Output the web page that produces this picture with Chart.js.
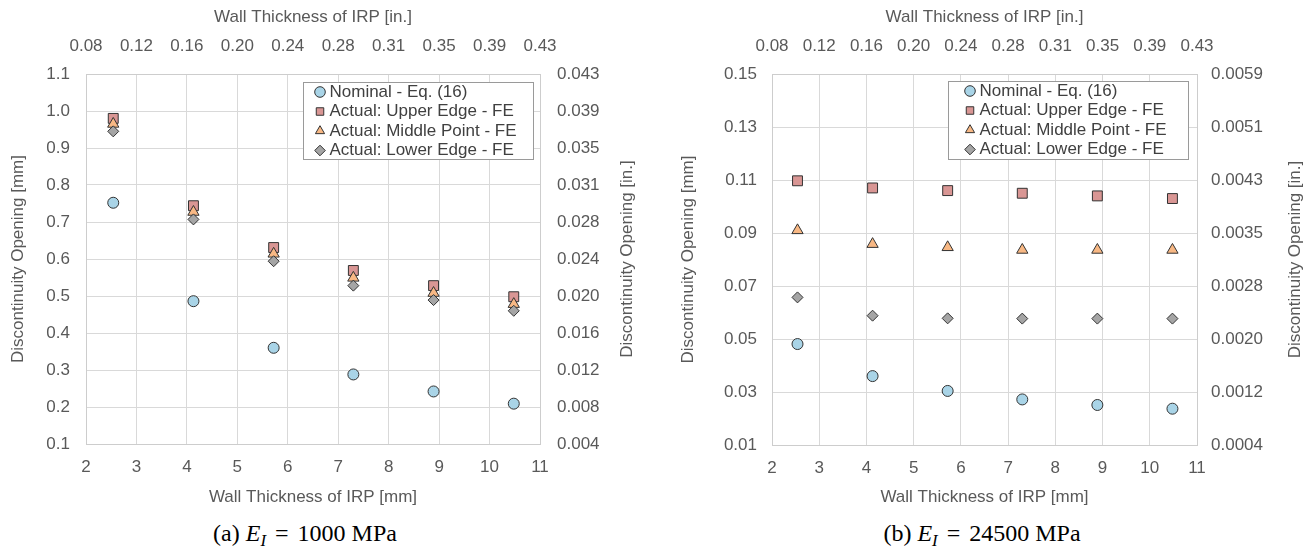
<!DOCTYPE html>
<html>
<head>
<meta charset="utf-8">
<script src="https://cdn.jsdelivr.net/npm/chart.js@4.4.1/dist/chart.umd.min.js"></script>
<style>
  html, body { margin: 0; padding: 0; background: #fff; }
  body { width: 1314px; height: 558px; position: relative; overflow: hidden; }
  .panel { position: absolute; top: 0; width: 657px; height: 520px; }
  .cap {
    position: absolute; top: 521px;
    font-family: 'Liberation Serif', 'Times New Roman', serif;
    font-size: 24px; line-height: 24px; color: #000;
    text-align: center; white-space: nowrap;
  }
  .cap sub { font-size: 0.7em; vertical-align: -0.28em; line-height: 0; }
  .cap .eq { margin: 0 9px; }
</style>
</head>
<body>
<div class="panel" style="left:0"><canvas id="chartA" width="657" height="520"></canvas></div>
<div class="panel" style="left:657px"><canvas id="chartB" width="657" height="520"></canvas></div>
<div class="cap" style="left:0;width:610px">(a) <i>E<sub>I</sub></i><span class="eq">=</span>1000 MPa</div>
<div class="cap" style="left:657px;width:650px">(b) <i>E<sub>I</sub></i><span class="eq">=</span>24500 MPa</div>

<script>
// Wall thickness of the IRP for each analysed case [mm]
const wallThicknessMm = [2.54, 4.13, 5.72, 7.30, 8.89, 10.48];

const seriesNames = [
  'Nominal - Eq. (16)',
  'Actual: Upper Edge - FE',
  'Actual: Middle Point - FE',
  'Actual: Lower Edge - FE'
];

// Discontinuity opening [mm], E_I = 1000 MPa
const nominalA = [0.752, 0.486, 0.360, 0.288, 0.242, 0.209];
const upperA   = [0.980, 0.744, 0.631, 0.569, 0.528, 0.498];
const middleA  = [0.965, 0.727, 0.614, 0.549, 0.508, 0.478];
const lowerA   = [0.945, 0.707, 0.594, 0.528, 0.489, 0.460];

// Discontinuity opening [mm], E_I = 24500 MPa
const nominalB = [0.0481, 0.0360, 0.0304, 0.0272, 0.0251, 0.0237];
const upperB   = [0.1097, 0.1070, 0.1060, 0.1050, 0.1040, 0.1030];
const middleB  = [0.0910, 0.0858, 0.0846, 0.0836, 0.0836, 0.0836];
const lowerB   = [0.0657, 0.0588, 0.0578, 0.0577, 0.0577, 0.0577];

// Tick labels
const inchTickLabels = ['0.08', '0.12', '0.16', '0.20', '0.24', '0.28', '0.31', '0.35', '0.39', '0.43'];
const mmTickLabelsA  = ['0.1', '0.2', '0.3', '0.4', '0.5', '0.6', '0.7', '0.8', '0.9', '1.0', '1.1'];
const inTickLabelsA  = ['0.004', '0.008', '0.012', '0.016', '0.020', '0.024', '0.028', '0.031', '0.035', '0.039', '0.043'];
const mmTickLabelsB  = ['0.01', '0.03', '0.05', '0.07', '0.09', '0.11', '0.13', '0.15'];
const inTickLabelsB  = ['0.0004', '0.0012', '0.0020', '0.0028', '0.0035', '0.0043', '0.0051', '0.0059'];

const markerStyles = [
  { pointStyle: 'circle',   fill: '#a9d4e7', radius: 5.5 },
  { pointStyle: 'rect',     fill: '#d99694', radius: 7 },
  { pointStyle: 'triangle', fill: '#f8b884', radius: 6.5 },
  { pointStyle: 'rectRot',  fill: '#a5a5a5', radius: 5.5 }
];

const FONT = "'Liberation Sans', Arial, sans-serif";
const TEXT_GREY = '#595959';
const GRID = '#d9d9d9';
const FRAME = '#cdcdcd';
Chart.defaults.font.family = FONT;

// Places the legend in a framed white box at the top right of the plot area
const legendFrame = {
  id: 'legendFrame',
  afterLayout(chart, args, o) {
    const area = chart.chartArea;
    const lg = chart.legend;
    const lab = lg.options.labels;
    const fs = Chart.helpers.toFont(lab.font).size;
    const pad = lab.padding;
    const fx = area.right - o.inset - o.width;
    const fy = area.top + o.top;
    chart.$frame = { x: fx, y: fy, w: o.width, h: o.height };
    lg.left = fx + o.indent - pad - lab.boxWidth / 2;
    lg.top = fy + o.firstRow - pad - fs / 2;
    lg.right = fx + o.width;
    lg.bottom = fy + o.height + 6;
    lg.width = lg.right - lg.left;
    lg.height = lg.bottom - lg.top;
  },
  afterDatasetsDraw(chart) {
    const f = chart.$frame;
    if (!f) return;
    const ctx = chart.ctx;
    ctx.save();
    ctx.fillStyle = '#ffffff';
    ctx.fillRect(f.x, f.y, f.w, f.h);
    ctx.strokeStyle = '#9a9a9a';
    ctx.lineWidth = 1;
    ctx.strokeRect(Math.round(f.x) + 0.5, Math.round(f.y) + 0.5, Math.round(f.w), Math.round(f.h));
    ctx.restore();
    // redraw the legend entries on top of the white box, unclipped
    ctx.save();
    chart.legend._draw();
    ctx.restore();
  }
};

// Right-hand axis title, reading bottom to top like the left one
const rightTitle = {
  id: 'rightTitle',
  afterDraw(chart, args, o) {
    const s = chart.scales.y2;
    const ctx = chart.ctx;
    ctx.save();
    ctx.translate(s.right - o.offset, (s.top + s.bottom) / 2);
    ctx.rotate(-Math.PI / 2);
    ctx.font = Chart.helpers.toFont(o.font).string;
    ctx.fillStyle = TEXT_GREY;
    ctx.textAlign = 'center';
    ctx.textBaseline = 'middle';
    ctx.fillText(o.text, 0, 0);
    ctx.restore();
  }
};

function buildChart(canvasId, cfg) {
  const datasets = cfg.series.map((vals, i) => ({
    label: seriesNames[i],
    data: wallThicknessMm.map((x, j) => ({ x: x, y: vals[j] })),
    pointStyle: markerStyles[i].pointStyle,
    backgroundColor: markerStyles[i].fill,
    borderColor: '#333333',
    borderWidth: 1,
    pointRadius: markerStyles[i].radius,
    pointHoverRadius: markerStyles[i].radius,
    order: seriesNames.length - i
  }));

  const tickFont = { family: FONT, size: 17 };
  const titleFont = { family: FONT, size: 17 };

  return new Chart(document.getElementById(canvasId), {
    type: 'scatter',
    data: { datasets: datasets },
    plugins: [legendFrame, rightTitle],
    options: {
      responsive: false,
      animation: false,
      events: [],
      layout: { padding: 0 },
      scales: {
        x: {
          type: 'linear', position: 'bottom', min: 2, max: 11,
          ticks: { stepSize: 1, autoSkip: false, maxRotation: 0, padding: 13, font: tickFont, color: TEXT_GREY },
          grid: { color: GRID, drawTicks: false },
          border: { color: FRAME },
          title: { display: true, text: 'Wall Thickness of IRP [mm]', font: titleFont, color: TEXT_GREY, padding: { bottom: 12 } },
          afterFit(s) { s.height = cfg.bottomH; }
        },
        x2: {
          type: 'linear', position: 'top', min: 2, max: 11,
          ticks: { stepSize: 1, autoSkip: false, maxRotation: 0, padding: 17, font: tickFont, color: TEXT_GREY,
                   callback: (v, i) => inchTickLabels[i] },
          grid: { display: false, drawTicks: false },
          border: { color: FRAME },
          title: { display: true, text: 'Wall Thickness of IRP [in.]', font: titleFont, color: TEXT_GREY, padding: { top: 7 } },
          afterFit(s) { s.height = 74; }
        },
        y: {
          type: 'linear', position: 'left', min: cfg.yMin, max: cfg.yMax,
          ticks: { stepSize: cfg.yStep, autoSkip: false, padding: cfg.leftPad, font: tickFont, color: TEXT_GREY,
                   callback: (v, i) => cfg.leftLabels[i] },
          grid: { color: GRID, drawTicks: false },
          border: { color: FRAME },
          title: { display: true, text: 'Discontinuity Opening [mm]', font: titleFont, color: TEXT_GREY, padding: { top: cfg.leftTitlePad } },
          afterFit(s) { s.width = cfg.leftW; }
        },
        y2: {
          type: 'linear', position: 'right', min: cfg.yMin, max: cfg.yMax,
          ticks: { stepSize: cfg.yStep, autoSkip: false, padding: cfg.rightPad, font: tickFont, color: TEXT_GREY,
                   callback: (v, i) => cfg.rightLabels[i] },
          grid: { display: false, drawTicks: false },
          border: { color: FRAME },
          afterFit(s) { s.width = 117; }
        }
      },
      plugins: {
        tooltip: { enabled: false },
        legend: {
          position: 'chartArea',
          align: 'start',
          reverse: true,
          labels: { usePointStyle: true, boxWidth: 2, boxHeight: 7.5, padding: 2.5,
                    font: { family: FONT, size: 17 }, color: '#404040' }
        },
        legendFrame: cfg.frame,
        rightTitle: { text: 'Discontinuity Opening [in.]', offset: cfg.rightTitleOffset, font: titleFont }
      }
    }
  });
}

buildChart('chartA', {
  series: [nominalA, upperA, middleA, lowerA],
  yMin: 0.1, yMax: 1.1, yStep: 0.1,
  leftLabels: mmTickLabelsA, rightLabels: inTickLabelsA,
  leftW: 86, bottomH: 76, leftPad: 16, rightPad: 17,
  leftTitlePad: 8, rightTitleOffset: 30,
  frame: { width: 230, height: 77, inset: 7, top: 8, indent: 17, firstRow: 10 }
});

buildChart('chartB', {
  series: [nominalB, upperB, middleB, lowerB],
  yMin: 0.01, yMax: 0.15, yStep: 0.02,
  leftLabels: mmTickLabelsB, rightLabels: inTickLabelsB,
  leftW: 115, bottomH: 75, leftPad: 15, rightPad: 14,
  leftTitlePad: 21, rightTitleOffset: 19,
  frame: { width: 240, height: 78, inset: 9, top: 7, indent: 22, firstRow: 10 }
});
</script>
</body>
</html>
